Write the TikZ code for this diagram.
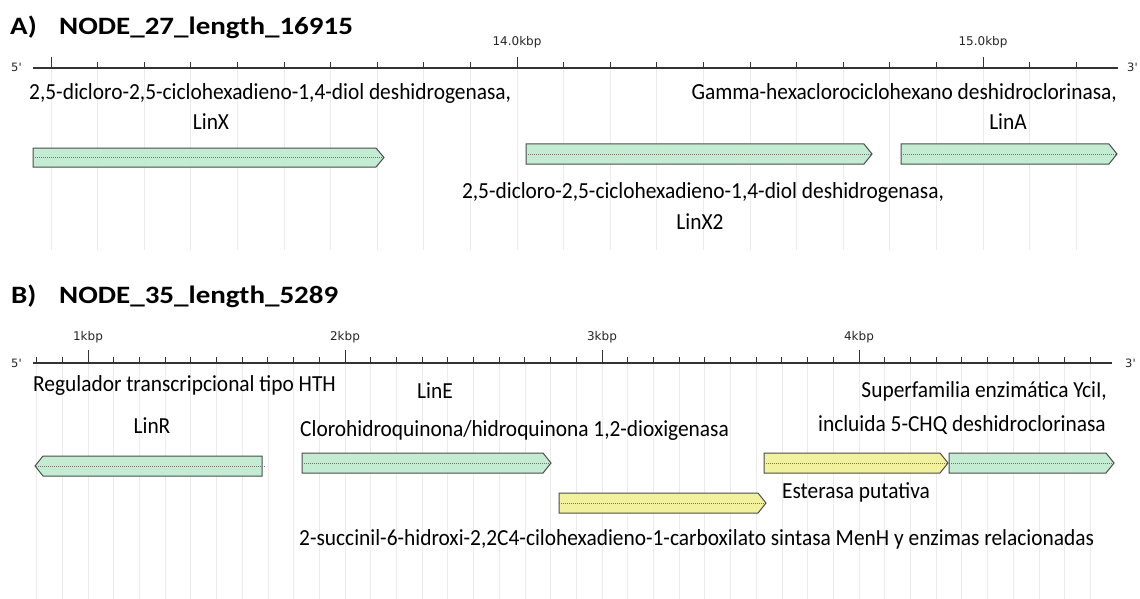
\documentclass[tikz,border=0pt]{standalone}
\usepackage{fontspec}
\setmainfont{Carlito}[FakeStretch=0.93]
\newfontfamily\titlefont[FakeStretch=1.16]{Carlito}
\newfontfamily\rulefont[Ligatures=TeXOff]{DejaVu Sans}
\definecolor{gfill}{RGB}{190,235,206}
\definecolor{yfill}{RGB}{240,240,148}
\tikzset{
  lbl/.style={font=\fontsize{23}{26}\selectfont, inner sep=0pt, text=black},
  ttl/.style={font=\titlefont\bfseries\fontsize{25}{28}\selectfont, inner sep=0pt},
  kbp/.style={font=\rulefont\fontsize{12}{14}\selectfont, inner sep=0pt, text=black!85},
  endlbl/.style={font=\rulefont\fontsize{11.5}{13}\selectfont, inner sep=0pt, text=black!85},
  rulerln/.style={line width=1.2pt, draw=black!80},
  tickln/.style={line width=0.9pt, draw=black!80},
  gridln/.style={line width=0.8pt, draw=black!8},
  gg/.style={draw=black!70, line width=1pt, fill=gfill, fill opacity=0.9},
  gy/.style={draw=black!70, line width=1pt, fill=yfill, fill opacity=0.9},
  midline/.style={draw=black!55, line width=0.5pt, dash pattern=on 1pt off 1pt}
}
\newcommand{\geneR}[5]{%
  \draw[#1] (#2,#4) -- ({#3-8},#4) -- (#3,{(#4+#5)/2}) -- ({#3-8},#5) -- (#2,#5) -- cycle;
  \draw[midline] (#2,{(#4+#5)/2}) -- ({#3-1},{(#4+#5)/2});
}
\newcommand{\geneL}[5]{%
  \draw[#1] (#2,{(#4+#5)/2}) -- ({#2+8},#4) -- (#3,#4) -- (#3,#5) -- ({#2+8},#5) -- cycle;
  \draw[midline] ({#2+1},{(#4+#5)/2}) -- ({#3+3},{(#4+#5)/2});
}
\begin{document}
\begin{tikzpicture}[x=1pt,y=-1pt]
\fill[white] (0,0) rectangle (1140,599);
\useasboundingbox (0,0) rectangle (1140,599);

% ---------- Panel A ----------
\foreach \k in {-10,...,12} {
  \draw[gridln] ({517+46.6*\k},68) -- ({517+46.6*\k},250);
}
\draw[rulerln] (33,68) -- (1118,68);
\foreach \k in {-10,...,12} {
  \pgfmathtruncatemacro\m{mod(abs(\k),10)}
  \ifnum\m=0
    \draw[tickln] ({517+46.6*\k},57) -- ({517+46.6*\k},68);
  \else
    \draw[tickln] ({517+46.6*\k},62) -- ({517+46.6*\k},68);
  \fi
}
\node[ttl, anchor=base west] (tA) at (10,35) {A)};
\node[ttl, anchor=base west] (nA) at (59,35) {NODE\_27\_length\_16915};
\node[endlbl, anchor=base west] (a5) at (11,72) {5'};
\node[endlbl, anchor=base west] (a3) at (1127,72) {3'};
\node[kbp, anchor=base] (k14) at (517,46) {14.0kbp};
\node[kbp, anchor=base] (k15) at (983,46) {15.0kbp};

\geneR{gg}{33}{384}{148}{167}
\geneR{gg}{526}{872}{144}{164}
\geneR{gg}{901}{1117}{144}{164}

\node[lbl, anchor=base west] (linxa) at (29,100) {2,5-dicloro-2,5-ciclohexadieno-1,4-diol deshidrogenasa,};
\node[lbl, anchor=base] (linxb) at (211,130) {LinX};
\node[lbl, anchor=base east] (linaa) at (1117,100) {Gamma-hexaclorociclohexano deshidroclorinasa,};
\node[lbl, anchor=base] (linab) at (1008,129) {LinA};
\node[lbl, anchor=base] (linx2a) at (703,198) {2,5-dicloro-2,5-ciclohexadieno-1,4-diol deshidrogenasa,};
\node[lbl, anchor=base] (linx2b) at (700,229) {LinX2};

% ---------- Panel B ----------
\foreach \k in {-2,...,39} {
  \draw[gridln] ({88+25.7*\k},363) -- ({88+25.7*\k},599);
}
\draw[rulerln] (33,363) -- (1112,363);
\foreach \k in {-2,...,39} {
  \pgfmathtruncatemacro\m{mod(abs(\k),10)}
  \ifnum\m=0
    \draw[tickln] ({88+25.7*\k},350) -- ({88+25.7*\k},363);
  \else
    \draw[tickln] ({88+25.7*\k},357) -- ({88+25.7*\k},363);
  \fi
}
\node[ttl, anchor=base west] (tB) at (11,303) {B)};
\node[ttl, anchor=base west] (nB) at (59,303) {NODE\_35\_length\_5289};
\node[endlbl, anchor=base west] (b5) at (11,367) {5'};
\node[endlbl, anchor=base west] (b3) at (1125,367) {3'};
\node[kbp, anchor=base] (k1) at (88,340) {1kbp};
\node[kbp, anchor=base] (k2) at (345,340) {2kbp};
\node[kbp, anchor=base] (k3) at (602,340) {3kbp};
\node[kbp, anchor=base] (k4) at (859,340) {4kbp};

\geneL{gg}{35}{262}{456}{476}
\geneR{gg}{302}{551}{453}{473}
\geneR{gy}{559}{766}{493}{513}
\geneR{gy}{764}{948}{453}{473}
\geneR{gg}{949}{1114}{453}{473}

\node[lbl, anchor=base west] (hth) at (33,391) {Regulador transcripcional tipo HTH};
\node[lbl, anchor=base] (linr) at (152,433) {LinR};
\node[lbl, anchor=base] (line) at (435,398) {LinE};
\node[lbl, anchor=base west] (chq) at (300,436) {Clorohidroquinona/hidroquinona 1,2-dioxigenasa};
\node[lbl, anchor=base east] (ycia) at (1107,397) {Superfamilia enzimática YciI,};
\node[lbl, anchor=base east] (ycib) at (1106,431) {incluida 5-CHQ deshidroclorinasa};
\node[lbl, anchor=base] (est) at (856,498) {Esterasa putativa};
\node[lbl, anchor=base west] (menh) at (299,545) {2-succinil-6-hidroxi-2,2C4-cilohexadieno-1-carboxilato sintasa MenH y enzimas relacionadas};
\end{tikzpicture}
\end{document}
